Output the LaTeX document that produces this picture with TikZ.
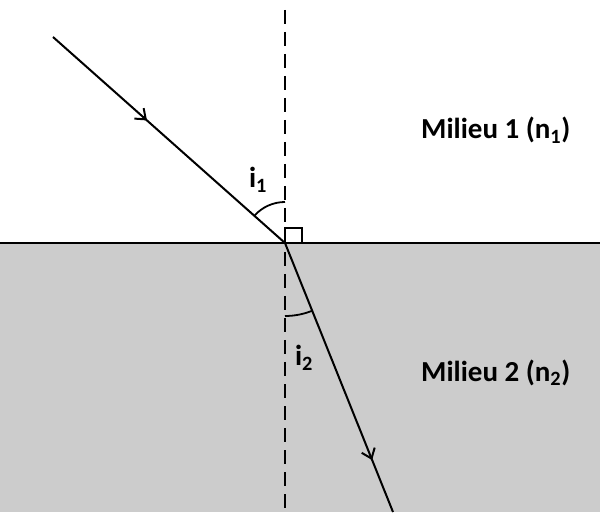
\documentclass[tikz,border=0pt]{standalone}
\usepackage{fontspec}
\setmainfont{Carlito}
\usetikzlibrary{arrows.meta,decorations.markings,calc}
\definecolor{milieugray}{RGB}{204,204,204}
\tikzset{
  ray/.style={line width=2pt},
  rayarrow/.style={postaction={decorate},decoration={markings,
    mark=at position #1 with {\arrow{Straight Barb[length=9pt,width=14pt,line width=2pt]}}}},
  label/.style={font=\fontsize{29}{34}\selectfont\bfseries}
}
\begin{document}
\begin{tikzpicture}[x=1pt,y=1pt]
  \useasboundingbox (0,0) rectangle (600,512);
  % Milieu 2
  \fill[milieugray] (0,0) rectangle (600,269);
  % Points
  \coordinate (O) at (285,269);
  \coordinate (S) at (53,475);
  \coordinate (R) at (393,0);
  \coordinate (Ntop) at (285,502);
  \coordinate (Nbot) at (285,0);
  \coordinate (Il) at (0,269);
  \coordinate (Ir) at (600,269);
  % Interface and normal
  \draw[line width=2pt] (Il) -- (Ir);
  \draw[line width=2pt, dash pattern=on 14pt off 8pt] (Ntop) -- (Nbot);
  % Rays
  \draw[ray, rayarrow=0.405] (S) -- (O);
  \draw[ray, rayarrow=0.807] (O) -- (R);
  % Right angle
  \draw[line width=1.8pt] (O) rectangle ++(17,15);
  % Angles
  \draw[line width=1.8pt] ($(O)+(138.4:41)$) arc[start angle=138.4, end angle=90, radius=41];
  \draw[line width=1.8pt] ($(O)+(-68.1:73)$) arc[start angle=-68.1, end angle=-90, radius=73];
  % Labels
  \node[label] (i1) at (258,332) {i\textsubscript{1}};
  \node[label] (i2) at (304,154) {i\textsubscript{2}};
  \node[label, anchor=base west, inner sep=0pt] (m1) at (421,373) {Milieu 1 (n\textsubscript{1})};
  \node[label, anchor=base west, inner sep=0pt] (m2) at (421,131) {Milieu 2 (n\textsubscript{2})};
\end{tikzpicture}
\end{document}
